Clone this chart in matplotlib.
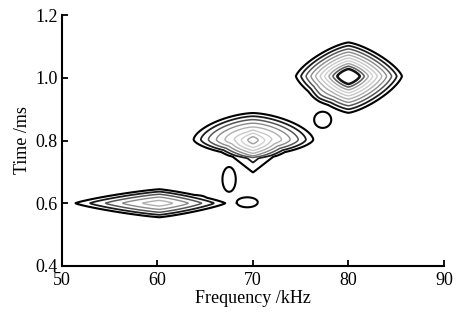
import numpy as np
import matplotlib
matplotlib.use("Agg")
import matplotlib.pyplot as plt

plt.rcParams['font.family'] = ['Liberation Serif', 'DejaVu Serif']

# blobs: centre (kHz, ms), peak, spreads left/right/down/up, shape exponent, profile power
blob_f = [60.2, 70.0, 80.0, 70.0, 77.0, 64.8]
blob_t = [0.600, 0.803, 1.005, 0.752, 0.94, 0.635]
blob_amp = [0.40, 0.53, 1.0, 0.2, 0.05, 0.05]
blob_sx_left = [10.45, 7.05, 6.13, 3.8, 1.5, 1.2]
blob_sx_right = [8.2, 7.16, 6.24, 3.8, 1.5, 1.2]
blob_sy_down = [0.053, 0.060, 0.130, 0.09, 0.04, 0.02]
blob_sy_up = [0.053, 0.096, 0.120, 0.09, 0.04, 0.02]
blob_p = [1.2, 1.6, 1.35, 1.0, 1.5, 1.5]
blob_k = [1.3, 1.3, 0.77, 1.0, 1.0, 1.0]

# small isolated islands
spot_f = [77.3, 67.5, 69.4]
spot_t = [0.866, 0.676, 0.603]
spot_amp = [0.12, 0.12, 0.12]
spot_sx = [1.18, 0.92, 1.45]
spot_sy = [0.034, 0.052, 0.021]

levels = [0.08, 0.15, 0.22, 0.29, 0.36, 0.43, 0.50, 0.57, 0.64, 0.72]
colors = ['black', '#1a1a1a', '#555555', '#8a8a8a', '#b0b0b0',
          '#c8c8c8', '#d0d0d0', '#a0a0a0', '#606060', '#111111']
widths = [1.5, 1.3, 1.1, 1.0, 1.0, 1.0, 1.0, 1.0, 1.2, 1.8]

freq = np.linspace(50, 90, 600)
time = np.linspace(0.4, 1.2, 600)
F, T = np.meshgrid(freq, time)
Z = np.zeros_like(F)
for i in range(len(blob_f)):
    dx = F - blob_f[i]
    dy = T - blob_t[i]
    sx = np.where(dx < 0, blob_sx_left[i], blob_sx_right[i])
    sy = np.where(dy < 0, blob_sy_down[i], blob_sy_up[i])
    p = blob_p[i]
    r = (np.abs(dx / sx) ** p + np.abs(dy / sy) ** p) ** (1 / p)
    Z += blob_amp[i] * np.clip(1 - r ** blob_k[i], 0, None)
for i in range(len(spot_f)):
    r = np.sqrt(((F - spot_f[i]) / spot_sx[i]) ** 2 + ((T - spot_t[i]) / spot_sy[i]) ** 2)
    Z += spot_amp[i] * np.clip(1 - r ** 4, 0, None)

fig = plt.figure(figsize=(4.61, 3.14), dpi=100)
ax = fig.add_axes([0.1345, 0.153, 0.8285, 0.799])
ax.contour(F, T, Z, levels=levels, colors=colors, linewidths=widths)

ax.set_xlim(50, 90)
ax.set_ylim(0.4, 1.2)
ax.set_xticks([50, 60, 70, 80, 90])
ax.set_yticks([0.4, 0.6, 0.8, 1.0, 1.2])
ax.set_yticklabels(['0.4', '0.6', '0.8', '1.0', '1.2'])
ax.spines['top'].set_visible(False)
ax.spines['right'].set_visible(False)
ax.spines['left'].set_linewidth(1.5)
ax.spines['bottom'].set_linewidth(1.5)
ax.tick_params(direction='in', length=4, width=1.3, labelsize=13)
ax.tick_params(axis='x', pad=4)
ax.tick_params(axis='y', pad=3)
ax.set_xlabel("Frequency /kHz", fontsize=13, labelpad=1)
ax.set_ylabel("Time /ms", fontsize=13, labelpad=3)

fig.savefig("out.png", dpi=100)
